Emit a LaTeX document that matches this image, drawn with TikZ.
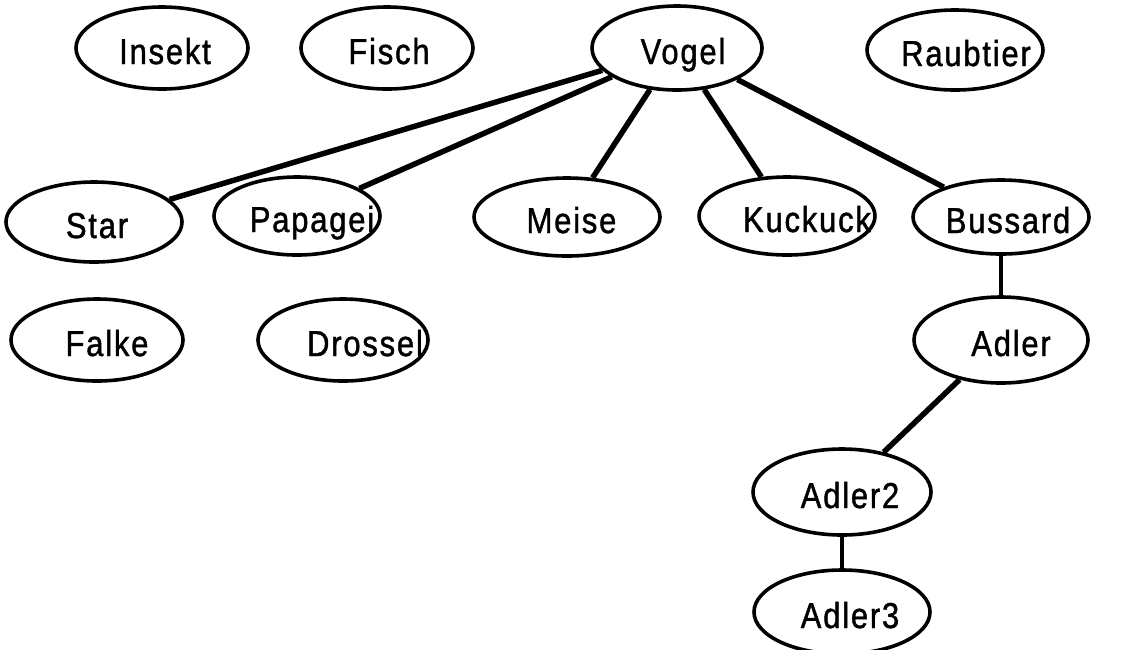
\documentclass[tikz,border=0pt]{standalone}
\usepackage{fontspec}
\setmainfont{Liberation Sans}[LetterSpace=5, FakeStretch=0.86, FakeBold=1.2]
\usetikzlibrary{shapes.geometric}
% label set on a zero-width box, moved right by half of #1
\newcommand\tagtext[2]{\makebox[0pt]{\kern#1\relax #2}}
\begin{document}
\begin{tikzpicture}[x=1pt,y=-1pt,
  animal/.style={ellipse, draw, line width=3.6pt, inner sep=0pt,
    minimum width=172pt, minimum height=82pt,
    font=\fontsize{36}{36}\selectfont, text height=32pt, text depth=0pt},
  link/.style={line width=5.5pt},
  thinlink/.style={line width=3.2pt}]
\useasboundingbox (0,0) rectangle (1142,649);
% top row
\node[animal] (insekt)   at (162,48)  {\tagtext{6pt}{Insekt}};
\node[animal] (fisch)    at (387,48)  {\tagtext{4pt}{Fisch}};
\node[animal, minimum width=170pt, minimum height=84pt] (vogel) at (677,48) {\tagtext{12pt}{Vogel}};
\node[animal, minimum width=176pt, minimum height=80pt] (raubtier) at (955,50) {\tagtext{22pt}{Raubtier}};
% birds
\node[animal, minimum width=176pt, minimum height=80pt] (star)    at (94,222)   {\tagtext{6pt}{Star}};
\node[animal, minimum width=166pt, minimum height=78pt] (papagei) at (297,216)  {\tagtext{30pt}{Papagei}};
\node[animal, minimum width=186pt, minimum height=78pt] (meise)   at (567,217)  {\tagtext{9pt}{Meise}};
\node[animal, minimum width=176pt, minimum height=78pt] (kuckuck) at (787,216)  {\tagtext{40pt}{Kuckuck}};
\node[animal, minimum width=176pt, minimum height=74pt] (bussard) at (1001,217) {\tagtext{14pt}{Bussard}};
% third row
\node[animal] (falke)   at (97,340)  {\tagtext{20pt}{Falke}};
\node[animal, minimum width=170pt] (drossel) at (343,340) {\tagtext{44pt}{Drossel}};
\node[animal, minimum width=174pt, minimum height=86pt] (adler)  at (1001,340) {\tagtext{20pt}{Adler}};
\node[animal, minimum width=178pt, minimum height=86pt] (adler2) at (842,492)  {\tagtext{16pt}{Adler2}};
\node[animal, minimum width=176pt, minimum height=84pt] (adler3) at (842,612)  {\tagtext{16pt}{Adler3}};
% connectors
\draw[link] (vogel) -- (star);
\draw[link] (vogel) -- (papagei);
\draw[link] (vogel) -- (meise);
\draw[link] (vogel) -- (kuckuck);
\draw[link] (vogel) -- (bussard);
\draw[thinlink] (bussard) -- (adler);
\draw[link] (adler) -- (adler2);
\draw[thinlink] (adler2) -- (adler3);
\end{tikzpicture}
\end{document}
